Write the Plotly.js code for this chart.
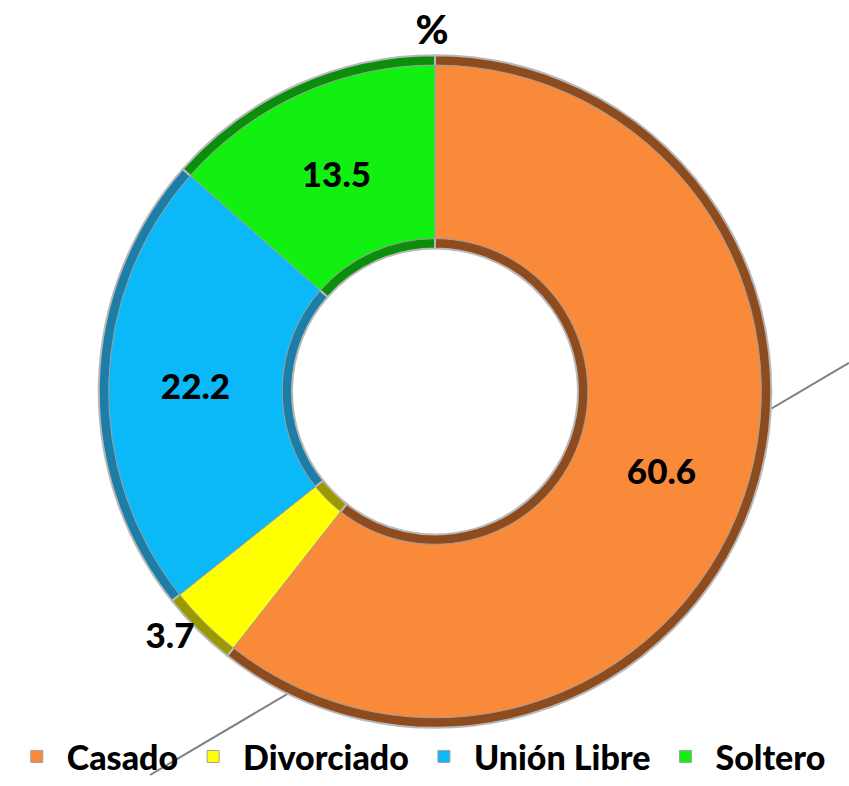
<!DOCTYPE html>
<html><head><meta charset="utf-8">
<script src="https://cdn.plot.ly/plotly-3.0.1.min.js"></script>
<style>html,body{margin:0;padding:0;background:#fff}#chart{width:849px;height:786px}</style>
</head><body><div id="chart"></div>
<script>
var labels = ["Casado", "Divorciado", "Unión Libre", "Soltero"];
var values = [60.6, 3.7, 22.2, 13.5];
var brightColors = ["#F98A3A", "#FFFF00", "#0BB8F8", "#11F011"];
var darkColors = ["#8E4B1E", "#9A9A00", "#1C7EA6", "#0B8E0B"];
var textPos = ["inside", "outside", "inside", "inside"];

(function(){
var W = 849, H = 786;
var cx = 435, cy = 397, R = 341, rim = 10, holeR = 145;
function dom(r){
  return {x:[(cx-r)/W,(cx+r)/W], y:[1-(cy+r)/H, 1-(cy-r)/H]};
}
var fnt = "Lato, 'Open Sans', sans-serif";
var baseTrace = {
  type:"pie", labels:labels, values:values, sort:false, direction:"clockwise",
  rotation:0, hole:holeR/R, domain:dom(R), showlegend:false,
  marker:{colors:darkColors, line:{color:"#B8B8B8", width:2}},
  textinfo:"none", hoverinfo:"skip"
};
var Rt = R-rim;
var tf = {family:fnt, size:35, color:"#000", weight:900};
var topTrace = {
  type:"pie", labels:labels, values:values, sort:false, direction:"clockwise",
  rotation:0, hole:(holeR+rim)/Rt, domain:dom(Rt),
  marker:{colors:brightColors, line:{color:"#A0A0A0", width:1}},
  textinfo:"value", texttemplate:"%{value:.1f}", textposition:textPos,
  insidetextorientation:"horizontal",
  textfont:tf, outsidetextfont:tf, insidetextfont:tf
};
var layout = {
  width:W, height:H, margin:{l:0,r:0,t:0,b:0},
  paper_bgcolor:"#fff", plot_bgcolor:"#fff",
  title:{text:"%", x:0.509, xanchor:"center", y:0.962, yanchor:"middle",
    font:{family:fnt, size:40, color:"#000", weight:900}},
  showlegend:true,
  legend:{orientation:"h", x:0.008, xanchor:"left", y:-0.014, yanchor:"bottom",
    font:{family:fnt, size:34, color:"#000", weight:900},
    itemwidth:50, tracegroupgap:0, bgcolor:"rgba(0,0,0,0)"},
  shapes:[{type:"line", xref:"paper", yref:"paper", layer:"below",
    x0:150/W, y0:1-786/H, x1:849/W, y1:1-368/H,
    line:{color:"#808080", width:2}}]
};
Plotly.newPlot("chart", [baseTrace, topTrace], layout, {displayModeBar:false});
})();
</script></body></html>
